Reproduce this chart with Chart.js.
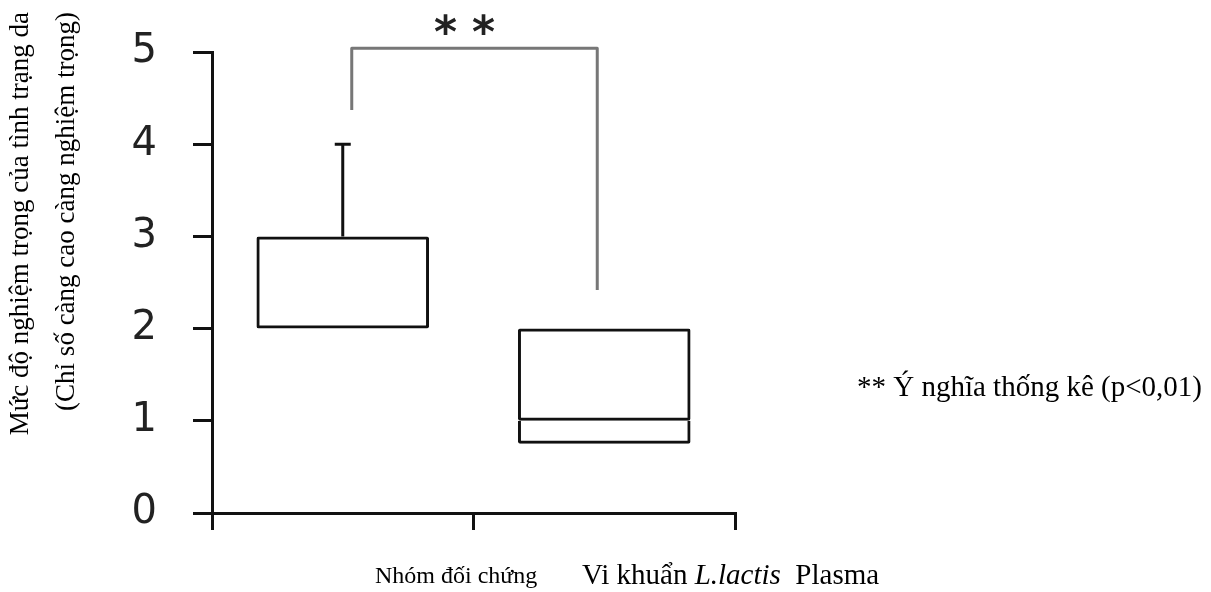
<!DOCTYPE html>
<html>
<head>
<meta charset="utf-8">
<script src="https://cdn.jsdelivr.net/npm/chart.js@4/dist/chart.umd.min.js"></script>
<style>
html, body { margin: 0; padding: 0; background: #fff; }
#khung { width: 1211px; height: 592px; position: relative; }
</style>
</head>
<body>
<div id="khung"><canvas id="bieuDo"></canvas></div>
<script>
// Du lieu doc tu hinh
const nhom = ["Nhóm đối chứng", "Vi khuẩn L.lactis Plasma"];
const q1 = [2, 0.75];
const trungVi = [2, 1];
const q3 = [3, 2];
const rauTren = [4, null];
const vachY = [0, 1, 2, 3, 4, 5];
const ngoac = [4.37, 5.04, 2.42]; // chan trai, dinh, chan phai
const tieuDeY = ["Mức độ nghiệm trọng của tình trạng da", "(Chỉ số càng cao càng nghiệm trọng)"];
const ghiChu = "** Ý nghĩa thống kê (p<0,01)";

const mauDen = "#111";

// Ve rau, ngoac va chu
const veThem = {
	id: "veThem",
	afterDatasetsDraw(chart) {
		const {ctx, scales: {x, y}} = chart;
		ctx.save();
		ctx.strokeStyle = mauDen;
		ctx.lineWidth = 3;
		rauTren.forEach((v, i) => {
			if (v === null) return;
			const cx = x.getPixelForValue(i);
			ctx.beginPath();
			ctx.moveTo(cx, y.getPixelForValue(q3[i]));
			ctx.lineTo(cx, y.getPixelForValue(v));
			ctx.moveTo(cx - 8, y.getPixelForValue(v));
			ctx.lineTo(cx + 8, y.getPixelForValue(v));
			ctx.stroke();
		});

		// ngoac y nghia
		const xl = x.getPixelForValue(0) + 9;
		const xr = x.getPixelForValue(1) - 7;
		ctx.strokeStyle = "#777";
		ctx.lineWidth = 3;
		ctx.lineJoin = "round";
		ctx.beginPath();
		ctx.moveTo(xl, y.getPixelForValue(ngoac[0]));
		ctx.lineTo(xl, y.getPixelForValue(ngoac[1]));
		ctx.lineTo(xr, y.getPixelForValue(ngoac[1]));
		ctx.lineTo(xr, y.getPixelForValue(ngoac[2]));
		ctx.stroke();

		const sx = (xl + xr) / 2 - 10;
		ctx.fillStyle = "#222";
		ctx.font = "bold 44px 'DejaVu Sans'";
		ctx.textAlign = "center";
		ctx.textBaseline = "alphabetic";
		ctx.fillText("*", sx - 19, 47);
		ctx.fillText("*", sx + 19, 47);
		ctx.restore();
	},
	afterDraw(chart) {
		const {ctx, chartArea} = chart;
		ctx.save();
		ctx.fillStyle = "#000";
		ctx.textBaseline = "middle";

		// tieu de truc Y, 2 dong
		ctx.font = "27px 'Liberation Serif'";
		ctx.textAlign = "right";
		[21, 67].forEach((px, k) => {
			ctx.save();
			ctx.translate(px, 12);
			ctx.rotate(-Math.PI / 2);
			ctx.fillText(tieuDeY[k], 0, 0);
			ctx.restore();
		});

		// nhan truc X
		ctx.textAlign = "left";
		ctx.font = "24px 'Liberation Serif'";
		ctx.fillText(nhom[0], chartArea.left + 163, 577);
		let px = chartArea.left + 370;
		const phan = [["Vi khuẩn ", ""], ["L.lactis", "italic "], ["  Plasma", ""]];
		phan.forEach(([t, kieu]) => {
			ctx.font = kieu + "29px 'Liberation Serif'";
			ctx.fillText(t, px, 576);
			px += ctx.measureText(t).width;
		});

		// ghi chu
		ctx.font = "29px 'Liberation Serif'";
		ctx.fillText(ghiChu, 857, 388);
		ctx.restore();
	},
};

const kieuHop = {
	backgroundColor: "rgba(0,0,0,0)",
	borderColor: mauDen,
	borderSkipped: false,
	grouped: false,
	barPercentage: 0.66,
	categoryPercentage: 1,
};

const config = {
	type: "bar",
	data: {
		labels: nhom,
		datasets: [
			{
				label: "Q1-trung vi",
				data: nhom.map((n, i) => [q1[i], trungVi[i]]),
				borderWidth: {top: 0, left: 3, right: 3, bottom: 3},
				borderRadius: {topLeft: 0, topRight: 0, bottomLeft: 2, bottomRight: 2},
				...kieuHop,
			},
			{
				label: "trung vi-Q3",
				data: nhom.map((n, i) => [trungVi[i], q3[i]]),
				borderWidth: 3,
				borderRadius: 2,
				...kieuHop,
			},
		],
	},
	options: {
		responsive: true,
		maintainAspectRatio: false,
		animation: false,
		layout: {padding: {top: 52, right: 476, left: 0, bottom: 0}},
		plugins: {
			legend: {display: false},
			tooltip: {enabled: false},
		},
		scales: {
			x: {
				type: "category",
				offset: true,
				border: {display: true, color: mauDen, width: 3},
				grid: {offset: true, drawOnChartArea: false, drawTicks: true, tickLength: 17, lineWidth: 3, color: mauDen},
				ticks: {display: false},
				afterFit(scale) {
					scale.height = 79;
				},
			},
			y: {
				min: 0,
				max: 5,
				border: {display: true, color: mauDen, width: 3},
				grid: {drawOnChartArea: false, drawTicks: true, tickLength: 19, lineWidth: 3, color: mauDen},
				afterBuildTicks(scale) {
					scale.ticks = vachY.map((v) => ({value: v}));
				},
				ticks: {
					color: "#222",
					padding: 36,
					font: {family: "'DejaVu Sans'", size: 40},
				},
				afterFit(scale) {
					// bo phan dem tren/duoi do padding cua nhan
					scale.width = 212;
					scale.paddingTop = 0;
					scale.paddingBottom = 0;
				},
			},
		},
	},
	plugins: [veThem],
};

new Chart(document.getElementById("bieuDo").getContext("2d"), config);
</script>
</body>
</html>
